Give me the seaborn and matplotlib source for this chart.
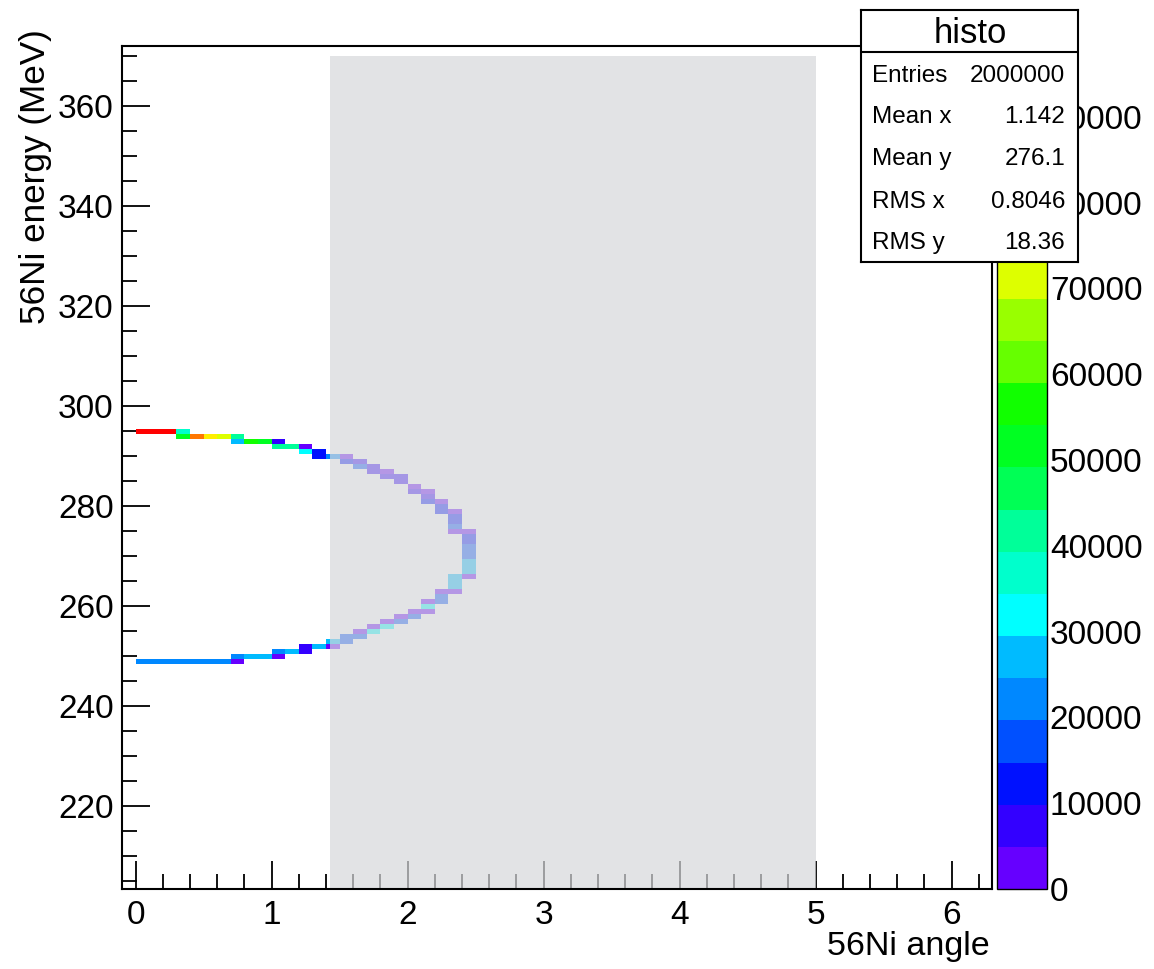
import matplotlib
matplotlib.use("Agg")
import matplotlib.pyplot as plt
import numpy as np
import pandas as pd
import seaborn as sns
from matplotlib.colors import ListedColormap
from matplotlib.patches import Rectangle
from matplotlib.ticker import MultipleLocator

sns.set_style("ticks")
plt.rcParams["font.family"] = ["Liberation Sans", "DejaVu Sans"]
plt.rcParams.update({
    "text.color": "black",
    "axes.labelcolor": "black",
    "xtick.color": "black",
    "ytick.color": "black",
})

# ── Data: filled bins of the 2D histogram (bin centre angle, bin centre energy, counts) ──
upper_angle = [0.05, 0.15, 0.25, 0.35, 0.35, 0.45, 0.55, 0.65, 0.75, 0.75,
               0.85, 0.95, 1.05, 1.05, 1.15, 1.25, 1.25, 1.35, 1.35, 1.45,
               1.55, 1.55, 1.65, 1.65, 1.75, 1.75, 1.85, 1.85, 1.95, 1.95,
               2.05, 2.05, 2.15, 2.15, 2.15, 2.25, 2.25, 2.25, 2.35, 2.35,
               2.35, 2.35, 2.35, 2.45, 2.45, 2.45, 2.45, 2.45, 2.45, 2.45,
               2.45, 2.45, 2.45]
upper_energy = [294.8, 294.8, 294.8, 294.8, 293.8, 293.8, 293.8, 293.8, 293.8, 292.8,
                292.8, 292.8, 292.8, 291.8, 291.8, 291.8, 290.8, 290.8, 289.8, 289.8,
                289.8, 288.8, 288.8, 287.8, 287.8, 286.8, 286.8, 285.8, 285.8, 284.8,
                283.8, 282.8, 282.8, 281.8, 280.8, 280.8, 279.8, 278.8, 278.8, 277.8,
                276.8, 275.8, 274.8, 274.8, 273.8, 272.8, 271.8, 270.8, 269.8, 268.8,
                267.8, 266.8, 265.8]
upper_counts = [96000, 96000, 96000, 37000, 52000, 86000, 76000, 71000, 42000, 27000,
                56000, 52000, 7000, 42000, 42000, 2500, 32000, 12000, 12000, 22000,
                2500, 12000, 7000, 17000, 7000, 7000, 2500, 7000, 7000, 7000,
                2500, 7000, 2500, 7000, 12000, 2500, 12000, 12000, 2500, 12000,
                12000, 17000, 2500, 2500, 12000, 12000, 17000, 17000, 17000, 27000,
                27000, 27000, 2500]

lower_angle = [0.05, 0.15, 0.25, 0.35, 0.45, 0.55, 0.65, 0.75, 0.75, 0.85,
               0.95, 1.05, 1.05, 1.15, 1.25, 1.25, 1.35, 1.45, 1.45, 1.55,
               1.55, 1.65, 1.65, 1.75, 1.75, 1.85, 1.85, 1.95, 1.95, 2.05,
               2.05, 2.15, 2.15, 2.15, 2.25, 2.25, 2.25, 2.35, 2.35, 2.35,
               2.35]
lower_energy = [248.8, 248.8, 248.8, 248.8, 248.8, 248.8, 248.8, 249.8, 248.8, 249.8,
                249.8, 250.8, 249.8, 250.8, 251.8, 250.8, 251.8, 252.8, 251.8, 253.8,
                252.8, 254.8, 253.8, 255.8, 254.8, 256.8, 255.8, 257.8, 256.8, 258.8,
                257.8, 260.8, 259.8, 258.8, 262.8, 261.8, 260.8, 265.8, 264.8, 263.8,
                262.8]
lower_counts = [22000, 22000, 22000, 22000, 22000, 22000, 22000, 22000, 2500, 27000,
                27000, 22000, 2500, 27000, 7000, 7000, 27000, 27000, 2500, 17000,
                17000, 2500, 17000, 2500, 32000, 2500, 32000, 2500, 17000, 2500,
                17000, 2500, 32000, 2500, 2500, 17000, 17000, 27000, 27000, 27000,
                2500]

stat_labels = ["Entries", "Mean x", "Mean y", "RMS x", "RMS y"]
stat_values = ["2000000", "1.142", "276.1", "0.8046", "18.36"]

# ROOT-like "pretty" palette, 20 contour levels
palette_colors = ["#6600ff", "#3300ff", "#0011ff", "#0050ff", "#0088ff",
                  "#00bbff", "#00ffff", "#00ffcc", "#00ff99", "#00ff55",
                  "#00ff22", "#11ff00", "#66ff00", "#99ff00", "#ddff00",
                  "#ffee00", "#ffbb00", "#ff7700", "#ff3300", "#ff0000"]
z_max = 98300

x_edges = np.round(np.arange(-0.1, 6.31, 0.1), 3)
y_edges = np.round(np.arange(203.3, 372.4, 1.0), 3)

df = pd.DataFrame({
    "angle": upper_angle + lower_angle,
    "energy": upper_energy + lower_energy,
    "counts": upper_counts + lower_counts,
})

# ── Layout ──
W, H = 1154, 969
fig = plt.figure(figsize=(W / 100, H / 100), dpi=100)
ax = fig.add_axes([122 / W, 1 - 889 / H, 870.4 / W, 843.3 / H])
cax = fig.add_axes([997 / W, 1 - 889 / H, 50 / W, 843.3 / H])

cmap = ListedColormap(palette_colors)
sns.histplot(data=df, x="angle", y="energy", weights="counts",
             bins=[x_edges, y_edges], cmap=cmap, vmax=z_max,
             cbar=True, cbar_ax=cax, ax=ax)

ax.set_xlim(-0.1, 6.3)
ax.set_ylim(203.3, 372.0)
ax.set_xlabel("")
ax.set_ylabel("")

# translucent grey box drawn over the histogram
ax.add_patch(Rectangle((1.43, 203.3), 5.0 - 1.43, 370 - 203.3,
                       facecolor=(0.843, 0.848, 0.859), alpha=0.7,
                       edgecolor="none", zorder=2))

ax.xaxis.set_major_locator(MultipleLocator(1))
ax.xaxis.set_minor_locator(MultipleLocator(0.2))
ax.yaxis.set_major_locator(MultipleLocator(20))
ax.yaxis.set_minor_locator(MultipleLocator(5))
ax.tick_params(which="both", direction="in", top=False, right=False,
               width=1.3, colors="black", labelsize=24)
ax.tick_params(which="major", length=20)
ax.tick_params(which="minor", length=11)
ax.tick_params(axis="x", pad=8)
ax.tick_params(axis="y", pad=6)
for s in ax.spines.values():
    s.set_visible(True)
    s.set_linewidth(1.5)
    s.set_color("black")

# colour bar
cax.set_yticks(np.arange(0, 90001, 10000))
cax.tick_params(direction="in", length=19.5, width=1.3, labelsize=24, pad=2,
                right=True, left=False, colors="black")
cax.yaxis.set_ticks_position("right")
for s in cax.spines.values():
    s.set_linewidth(1.0)
    s.set_color("black")

# axis titles (ROOT style, aligned at the axis ends)
fig.text(36 / W, 1 - 29 / H, "56Ni energy (MeV)", rotation=90, ha="center",
         va="top", fontsize=25.3, color="black")
fig.text(990 / W, 1 - 955 / H, "56Ni angle", ha="right", va="baseline",
         fontsize=24.5, color="black")

# statistics box
sax = fig.add_axes([861 / W, 1 - 262 / H, 217 / W, 252 / H])
sax.set_xlim(861, 1078)
sax.set_ylim(262, 10)
sax.set_xticks([])
sax.set_yticks([])
sax.set_facecolor("white")
for s in sax.spines.values():
    s.set_linewidth(1.5)
    s.set_color("black")
sax.axhline(52, color="black", linewidth=1.5)
sax.text(970, 43, "histo", ha="center", va="baseline", fontsize=25, color="black")
row_y = [82, 123, 165, 208, 249]
for lab, val, yy in zip(stat_labels, stat_values, row_y):
    sax.text(872, yy, lab, ha="left", va="baseline", fontsize=17.5, color="black")
    sax.text(1065, yy, val, ha="right", va="baseline", fontsize=17.5, color="black")

fig.savefig("out.png", dpi=100)
